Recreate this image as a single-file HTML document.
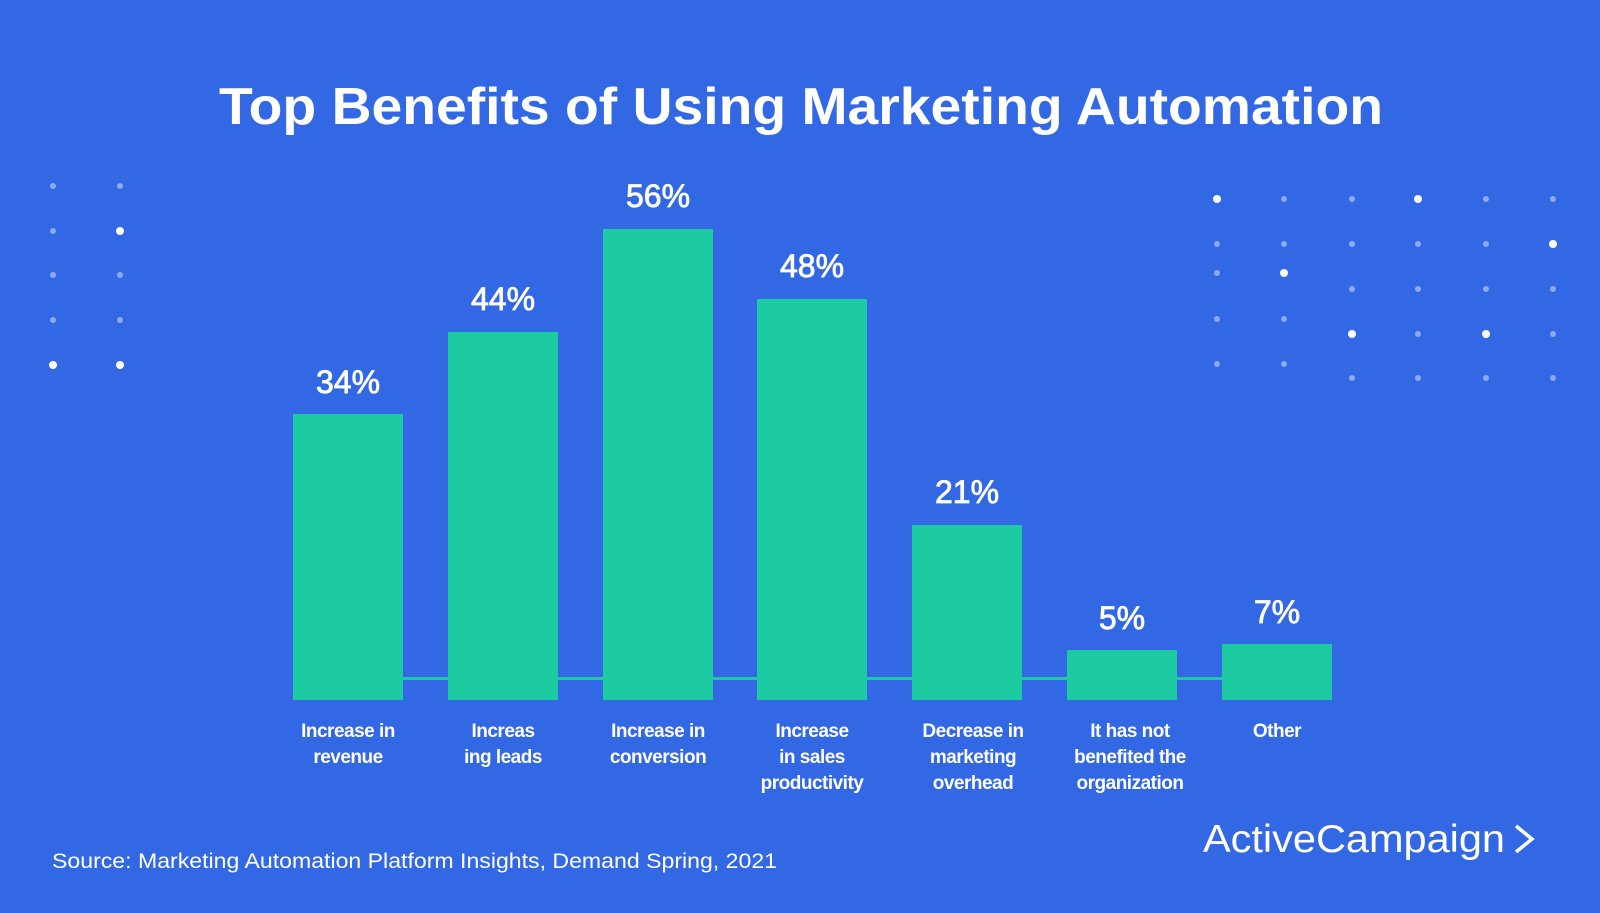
<!DOCTYPE html>
<html><head><meta charset="utf-8"><style>
body{margin:0;width:1600px;height:913px;background:#3368E4;overflow:hidden;font-family:"Liberation Sans",sans-serif;color:#fff}
svg{position:absolute;left:0;top:0}
</style></head><body>
<svg width="1600" height="913" viewBox="0 0 1600 913">
<rect width="1600" height="913" fill="#3368E4"/>
<text x="219" y="124" textLength="1164" lengthAdjust="spacingAndGlyphs" font-family="Liberation Sans" font-weight="bold" font-size="52" fill="#fff">Top Benefits of Using Marketing Automation</text>
<g fill="#8FA9F0">
<circle cx="53" cy="186" r="3"/><circle cx="120" cy="186" r="3"/>
<circle cx="53" cy="231" r="3"/>
<circle cx="53" cy="275" r="3"/><circle cx="120" cy="275" r="3"/>
<circle cx="53" cy="320" r="3"/><circle cx="120" cy="320" r="3"/>
<circle cx="1284" cy="199" r="3"/><circle cx="1352" cy="199" r="3"/><circle cx="1486" cy="199" r="3"/><circle cx="1553" cy="199" r="3"/>
<circle cx="1217" cy="244" r="3"/><circle cx="1284" cy="244" r="3"/><circle cx="1352" cy="244" r="3"/><circle cx="1418" cy="244" r="3"/><circle cx="1486" cy="244" r="3"/>
<circle cx="1217" cy="273" r="3"/>
<circle cx="1352" cy="289" r="3"/><circle cx="1418" cy="289" r="3"/><circle cx="1486" cy="289" r="3"/><circle cx="1553" cy="289" r="3"/>
<circle cx="1217" cy="319" r="3"/><circle cx="1284" cy="319" r="3"/>
<circle cx="1418" cy="334" r="3"/><circle cx="1553" cy="334" r="3"/>
<circle cx="1217" cy="364" r="3"/><circle cx="1284" cy="364" r="3"/>
<circle cx="1352" cy="378" r="3"/><circle cx="1418" cy="378" r="3"/><circle cx="1486" cy="378" r="3"/><circle cx="1553" cy="378" r="3"/>
</g>
<g fill="#fff">
<circle cx="120" cy="231" r="4"/><circle cx="53" cy="365" r="4"/><circle cx="120" cy="365" r="4"/>
<circle cx="1217" cy="199" r="4"/><circle cx="1418" cy="199" r="4"/><circle cx="1553" cy="244" r="4"/>
<circle cx="1284" cy="273" r="4"/><circle cx="1352" cy="334" r="4"/><circle cx="1486" cy="334" r="4"/>
</g>
<rect x="403" y="677" width="819" height="3" fill="#1CCBA2"/>
<g fill="#1CCBA2">
<rect x="293" y="414" width="110" height="286"/>
<rect x="448" y="332" width="110" height="368"/>
<rect x="603" y="229" width="110" height="471"/>
<rect x="757" y="299" width="110" height="401"/>
<rect x="912" y="525" width="110" height="175"/>
<rect x="1067" y="650" width="110" height="50"/>
<rect x="1222" y="644" width="110" height="56"/>
</g>
<g font-family="Liberation Sans" font-size="32" fill="#fff" text-anchor="middle" stroke="#fff" stroke-width="0.8">
<text x="348" y="393">34%</text><text x="503" y="310">44%</text><text x="658" y="207">56%</text>
<text x="812" y="277">48%</text><text x="967" y="503">21%</text><text x="1122" y="629">5%</text><text x="1277" y="623">7%</text>
</g>
<g font-family="Liberation Sans" font-weight="bold" font-size="19" fill="#fff" text-anchor="middle" letter-spacing="-0.5">
<text x="348" y="737">Increase in</text><text x="348" y="763">revenue</text>
<text x="503" y="737">Increas</text><text x="503" y="763">ing leads</text>
<text x="658" y="737">Increase in</text><text x="658" y="763">conversion</text>
<text x="812" y="737">Increase</text><text x="812" y="763">in sales</text><text x="812" y="789">productivity</text>
<text x="973" y="737">Decrease in</text><text x="973" y="763">marketing</text><text x="973" y="789">overhead</text>
<text x="1130" y="737">It has not</text><text x="1130" y="763">benefited the</text><text x="1130" y="789">organization</text>
<text x="1277" y="737">Other</text>
</g>
<text x="52" y="868" textLength="725" lengthAdjust="spacingAndGlyphs" font-family="Liberation Sans" font-size="21" fill="#fff">Source:  Marketing Automation Platform Insights, Demand Spring, 2021</text>
<text x="1203" y="852" textLength="302" lengthAdjust="spacingAndGlyphs" font-family="Liberation Sans" font-size="39" fill="#fff">ActiveCampaign</text>
<polyline points="1516,826 1532,839 1516,852" fill="none" stroke="#fff" stroke-width="3.5"/>
</svg>
</body></html>
